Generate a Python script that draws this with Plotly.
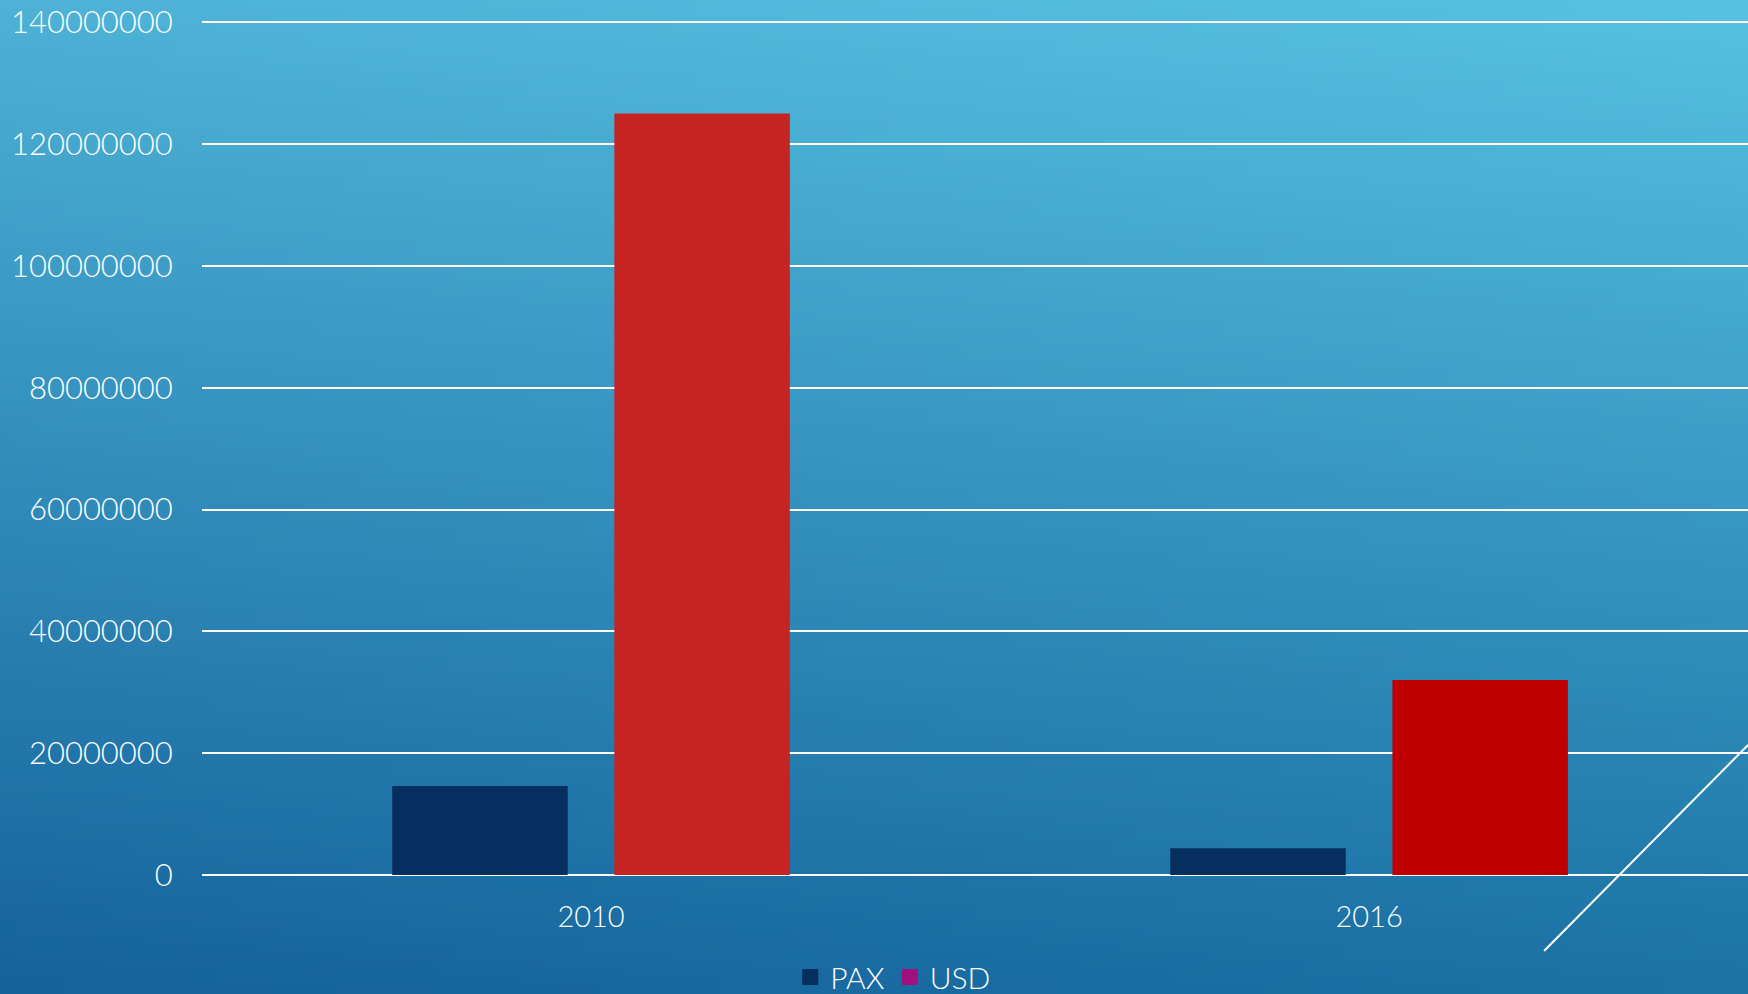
import zlib, struct, base64
import plotly.graph_objects as go

# ---- data ----
categories = ["2010", "2016"]
pax_values = [14600000, 4400000]
usd_values = [125000000, 32000000]
series_names = ["PAX", "USD"]
y_ticks = [0, 20000000, 40000000, 60000000, 80000000, 100000000, 120000000, 140000000]

# ---- styles ----
pax_color = "#062f5f"
usd_bar_colors = ["#c62323", "#c00000"]
usd_legend_color = "#a0117f"
FONT = "Lato"
W, H = 1748, 994
ML, MT, MB = 202, 10, 119

# ---- background gradient (PNG built in memory) ----
def gradient_png(w, h, tl, tr, bl, br):
    raw = bytearray()
    for j in range(h):
        v = j / (h - 1)
        raw.append(0)
        for i in range(w):
            u = i / (w - 1)
            for c in range(3):
                top = tl[c] * (1 - u) + tr[c] * u
                bot = bl[c] * (1 - u) + br[c] * u
                raw.append(int(round(top * (1 - v) + bot * v)))
    def chunk(t, d):
        c = struct.pack(">I", len(d)) + t + d
        return c + struct.pack(">I", zlib.crc32(t + d) & 0xffffffff)
    data = b"\x89PNG\r\n\x1a\n"
    data += chunk(b"IHDR", struct.pack(">IIBBBBB", w, h, 8, 2, 0, 0, 0))
    data += chunk(b"IDAT", zlib.compress(bytes(raw), 9))
    data += chunk(b"IEND", b"")
    return "data:image/png;base64," + base64.b64encode(data).decode()

bg = gradient_png(175, 100, (77, 178, 214), (86, 194, 225), (20, 98, 155), (28, 114, 165))

pw, ph = W - ML, H - MT - MB

fig = go.Figure()
fig.add_trace(go.Bar(x=categories, y=pax_values, name=series_names[0],
                     marker=dict(color=pax_color, line=dict(width=0)), showlegend=False))
fig.add_trace(go.Bar(x=categories, y=usd_values, name=series_names[1],
                     marker=dict(color=usd_bar_colors, line=dict(width=0)), showlegend=False))
# legend entries
fig.add_trace(go.Scatter(x=[None], y=[None], mode="markers", name=series_names[0],
                         marker=dict(symbol="square", size=16, color=pax_color)))
fig.add_trace(go.Scatter(x=[None], y=[None], mode="markers", name=series_names[1],
                         marker=dict(symbol="square", size=16, color=usd_legend_color)))

fig.update_layout(
    width=W, height=H,
    margin=dict(l=ML, r=0, t=MT, b=MB, autoexpand=False),
    paper_bgcolor="#1a6aa3", plot_bgcolor="rgba(0,0,0,0)",
    barmode="group", bargap=0.429, bargroupgap=0.21,
    font=dict(family=FONT, color="white", size=30, weight=300),
    showlegend=True,
    legend=dict(orientation="h", xref="container", yref="container",
                x=0.511, xanchor="center", y=0.017, yanchor="middle",
                font=dict(size=30, color="white", weight=300), itemsizing="trace",
                bgcolor="rgba(0,0,0,0)", itemwidth=30, tracegroupgap=0),
    images=[dict(source=bg, xref="paper", yref="paper", x=-ML / pw, y=1 + MT / ph,
                 sizex=W / pw, sizey=H / ph, sizing="stretch", layer="below",
                 xanchor="left", yanchor="top")],
    shapes=[dict(type="line", xref="paper", yref="paper",
                 x0=(1544 - ML) / pw, y0=(H - MB - 951) / ph,
                 x1=1.0, y1=(H - MB - 745) / ph, line=dict(color="white", width=2))],
)
fig.update_xaxes(type="category", range=[-0.5, 1.487], showgrid=False, showline=False,
                 zeroline=False, ticks="outside", ticklen=16, tickcolor="rgba(0,0,0,0)",
                 tickfont=dict(size=29, color="white", family=FONT, weight=300))
fig.update_yaxes(range=[0, 142000000], tickvals=y_ticks, ticktext=[str(v) for v in y_ticks],
                 showgrid=True, gridcolor="white", gridwidth=2,
                 zeroline=True, zerolinecolor="white", zerolinewidth=2, showline=False,
                 ticks="outside", ticklen=22, tickcolor="rgba(0,0,0,0)",
                 tickfont=dict(size=31, color="white", family=FONT, weight=300))

fig.write_html("out.html", config={"displayModeBar": False},
               post_script="document.body.style.margin='0';document.body.style.padding='0';"
                           "document.body.style.background='#1a6aa3';"
                           "document.documentElement.style.overflow='hidden';")
